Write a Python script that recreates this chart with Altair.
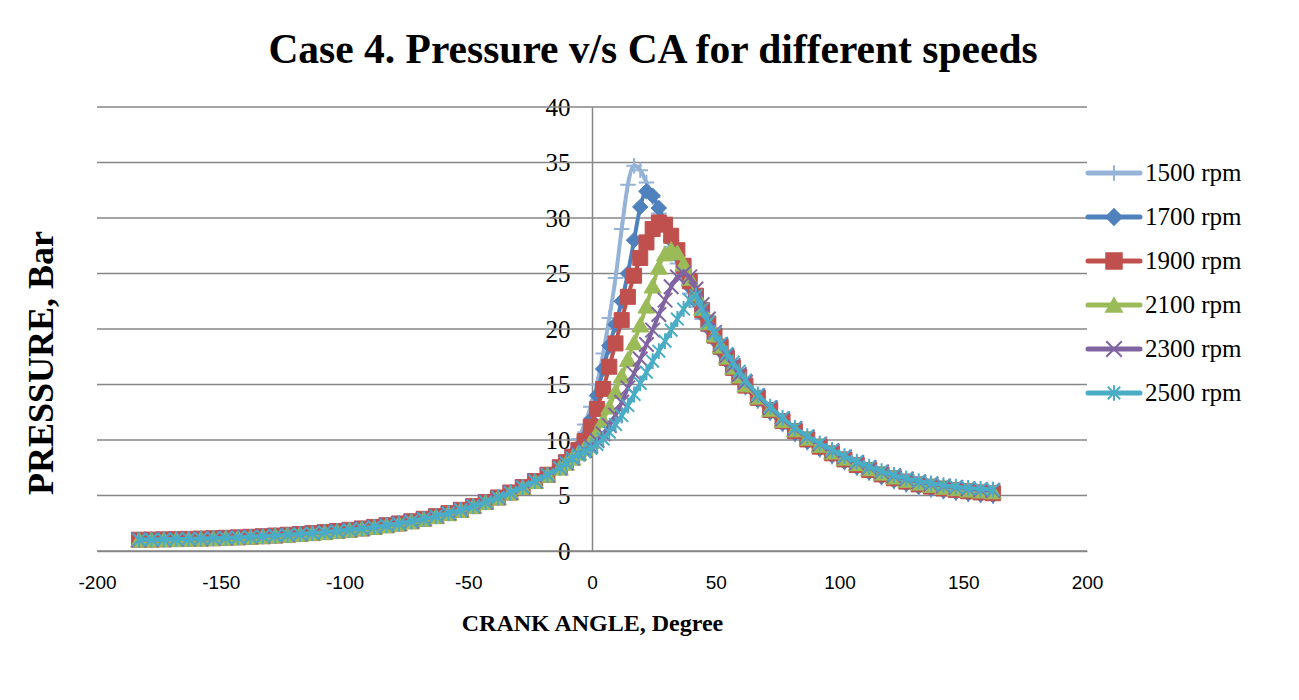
import altair as alt
import pandas as pd

series_names = ["1500 rpm", "1700 rpm", "1900 rpm", "2100 rpm", "2300 rpm", "2500 rpm"]
colors = ["#95B3D7", "#4F81BD", "#C0504D", "#9BBB59", "#8064A2", "#4BACC6"]

# crank angle grid (degrees)
ca_compression = list(range(-183, -17, 5))
ca_combustion = [-13 + 2.5 * i for i in range(31)]
ca_expansion = list(range(67, 163, 5))

# compression stroke (common to all speeds), bar
p_compression = [1.02, 1.03, 1.05, 1.07, 1.09, 1.12, 1.15, 1.19, 1.23, 1.28,
                 1.33, 1.39, 1.46, 1.53, 1.61, 1.70, 1.80, 1.91, 2.03, 2.17,
                 2.32, 2.48, 2.68, 2.90, 3.14, 3.41, 3.71, 4.04, 4.41, 4.82,
                 5.27, 5.76, 6.30, 6.87]

# combustion region, bar
p_comb_1500 = [7.7, 8.3, 9.1, 10.1, 11.4, 13.0, 15.0, 17.8, 21.0, 24.6, 29.0, 33.0, 34.7, 34.3, 33.2,
               31.9, 30.4, 28.9, 27.4, 25.9, 24.5, 23.2, 22.0, 20.9, 19.8, 18.8, 17.9, 17.0, 16.2, 15.4, 14.7]
p_comb_1700 = [7.6, 8.1, 8.7, 9.3, 10.2, 11.8, 14.0, 16.4, 18.5, 20.4, 22.5, 25.0, 28.0, 31.0, 32.4,
               32.0, 30.9, 29.5, 28.0, 26.6, 25.2, 23.8, 22.5, 21.3, 20.1, 19.0, 18.0, 17.1, 16.3, 15.5, 14.8]
p_comb_1900 = [7.55, 8.0, 8.5, 9.1, 9.9, 11.2, 12.8, 14.6, 16.6, 18.7, 20.8, 22.9, 24.8, 26.4, 27.8,
               29.0, 29.6, 29.4, 28.4, 27.1, 25.7, 24.3, 23.0, 21.7, 20.5, 19.4, 18.4, 17.4, 16.5, 15.7, 14.9]
p_comb_2100 = [7.5, 7.95, 8.4, 8.85, 9.3, 9.9, 10.7, 11.8, 13.0, 14.4, 15.8, 17.3, 18.8, 20.4, 22.1,
               23.9, 25.6, 26.8, 27.2, 26.9, 25.9, 24.6, 23.2, 21.9, 20.6, 19.5, 18.5, 17.5, 16.6, 15.8, 15.0]
p_comb_2300 = [7.5, 7.95, 8.35, 8.75, 9.05, 9.45, 9.95, 10.55, 11.3, 12.25, 13.4, 14.7, 16.0, 17.3, 18.6,
               19.9, 21.3, 22.6, 23.8, 24.7, 25.0, 24.7, 23.6, 22.2, 20.9, 19.7, 18.6, 17.6, 16.7, 15.9, 15.2]
p_comb_2500 = [7.5, 7.95, 8.35, 8.65, 8.95, 9.25, 9.6, 10.1, 10.7, 11.4, 12.2, 13.1, 14.1, 15.1, 16.1,
               17.1, 18.0, 18.9, 19.9, 20.9, 21.8, 22.6, 23.0, 21.8, 20.6, 19.6, 18.7, 17.8, 17.0, 16.2, 15.4]

# expansion stroke, bar
p_exp_1500 = [13.5, 12.4, 11.4, 10.5, 9.75, 9.1, 8.5, 7.95, 7.45, 7.0,
              6.6, 6.25, 5.95, 5.7, 5.5, 5.33, 5.2, 5.08, 5.0, 4.93]
p_exp_1700 = [13.6, 12.5, 11.5, 10.6, 9.85, 9.2, 8.6, 8.05, 7.55, 7.1,
              6.7, 6.35, 6.05, 5.8, 5.6, 5.43, 5.3, 5.18, 5.1, 5.03]
p_exp_1900 = [13.8, 12.7, 11.7, 10.8, 10.05, 9.4, 8.8, 8.25, 7.75, 7.3,
              6.9, 6.55, 6.25, 6.0, 5.8, 5.63, 5.5, 5.38, 5.28, 5.2]
p_exp_2100 = [13.9, 12.8, 11.8, 10.95, 10.2, 9.55, 8.95, 8.4, 7.9, 7.45,
              7.05, 6.7, 6.4, 6.15, 5.95, 5.78, 5.65, 5.53, 5.44, 5.37]
p_exp_2300 = [14.0, 12.9, 11.9, 11.03, 10.28, 9.63, 9.03, 8.48, 7.98, 7.53,
              7.13, 6.78, 6.48, 6.23, 6.03, 5.86, 5.73, 5.61, 5.52, 5.45]
p_exp_2500 = [14.1, 13.0, 12.0, 11.1, 10.35, 9.7, 9.1, 8.55, 8.05, 7.6,
              7.2, 6.85, 6.55, 6.3, 6.1, 5.93, 5.8, 5.68, 5.6, 5.53]

y_ticks = [0, 5, 10, 15, 20, 25, 30, 35, 40]
x_ticks = [-200, -150, -100, -50, 0, 50, 100, 150, 200]

comb_lists = [p_comb_1500, p_comb_1700, p_comb_1900, p_comb_2100, p_comb_2300, p_comb_2500]
exp_lists = [p_exp_1500, p_exp_1700, p_exp_1900, p_exp_2100, p_exp_2300, p_exp_2500]

rows = []
all_ca = ca_compression + ca_combustion + ca_expansion
for name, comb, exp in zip(series_names, comb_lists, exp_lists):
    for ca, p in zip(all_ca, p_compression + comb + exp):
        rows.append({"series": name, "ca": ca, "p": p})
df = pd.DataFrame(rows)

W, H = 990, 444

shapes = [
    "M-1,0L1,0M0,-1L0,1",
    "diamond",
    "square",
    "triangle-up",
    "M-1,-1L1,1M-1,1L1,-1",
    "M0,-1L0,1M-0.8,-0.8L0.8,0.8M-0.8,0.8L0.8,-0.8",
]
sizes = [240, 240, 225, 290, 210, 250]
filled = [False, True, True, True, False, False]

x_scale = alt.Scale(domain=[-200, 200], nice=False, zero=False)
y_scale = alt.Scale(domain=[0, 40], nice=False, zero=False)

x_axis = alt.Axis(values=x_ticks, title="CRANK ANGLE, Degree", grid=False, ticks=False,
                  domainColor="#868686", domainWidth=1.5,
                  labelExpr="datum.value < 0 ? '-' + abs(datum.value) : '' + datum.value",
                  labelFont="Liberation Sans", labelFontSize=19, labelColor="black",
                  labelPadding=22, labelFlush=False,
                  titleFont="Liberation Serif", titleFontSize=24, titleFontWeight="bold",
                  titleColor="black", titlePadding=19)
y_axis = alt.Axis(values=y_ticks, title=None, grid=False, ticks=False, offset=-W / 2,
                  domainColor="#868686", domainWidth=1.5,
                  labelFont="Liberation Serif", labelFontSize=25, labelColor="black",
                  labelPadding=22)

grid_df = pd.DataFrame({"v": y_ticks})
grid = alt.Chart(grid_df).mark_rule(color="#868686", strokeWidth=1.5).encode(
    y=alt.Y("v:Q", scale=y_scale, axis=y_axis),
    x=alt.value(0), x2=alt.value(W),
)

layers = [grid]
for i, name in enumerate(series_names):
    base = alt.Chart(df).transform_filter(alt.datum.series == name)
    line = base.mark_line(color=colors[i], strokeWidth=4, interpolate="monotone",
                          strokeJoin="round", strokeCap="round").encode(
        x=alt.X("ca:Q", scale=x_scale, axis=x_axis),
        y=alt.Y("p:Q", scale=y_scale, axis=y_axis),
    )
    if filled[i]:
        pts = base.mark_point(shape=shapes[i], size=sizes[i], filled=True, fill=colors[i],
                              stroke=colors[i], strokeWidth=1, opacity=1)
    else:
        pts = base.mark_point(shape=shapes[i], size=sizes[i], filled=False,
                              stroke=colors[i], strokeWidth=2, opacity=1)
    pts = pts.encode(
        x=alt.X("ca:Q", scale=x_scale, axis=x_axis),
        y=alt.Y("p:Q", scale=y_scale, axis=y_axis),
    )
    layers += [line, pts]

ytitle = alt.Chart(pd.DataFrame({"t": ["PRESSURE, Bar"]})).mark_text(
    font="Liberation Serif", fontSize=36, fontWeight="bold", color="black",
    angle=270, align="center", baseline="middle").encode(
    text="t:N", x=alt.value(-55), y=alt.value(256))
layers.append(ytitle)

main = alt.layer(*layers)

leg_df = pd.DataFrame({"series": series_names})
leg_y = alt.Y("series:N", sort=series_names,
              scale=alt.Scale(domain=series_names, range=[44, 308]), axis=None)
leg_color = alt.Color("series:N", scale=alt.Scale(domain=series_names, range=colors), legend=None)
leg_line = alt.Chart(leg_df).mark_rule(strokeWidth=5, strokeCap="round").encode(
    y=leg_y, x=alt.value(991), x2=alt.value(1043), color=leg_color)
leg_pts = alt.Chart(leg_df).mark_point(strokeWidth=2, opacity=1, filled=False).encode(
    y=leg_y, x=alt.value(1017),
    stroke=alt.Stroke("series:N", scale=alt.Scale(domain=series_names, range=colors), legend=None),
    fill=alt.Fill("series:N", scale=alt.Scale(domain=series_names,
                  range=[c if f else "transparent" for c, f in zip(colors, filled)]), legend=None),
    shape=alt.Shape("series:N", scale=alt.Scale(domain=series_names, range=shapes), legend=None),
    size=alt.Size("series:N", scale=alt.Scale(domain=series_names, range=sizes), legend=None),
)
leg_text = alt.Chart(leg_df).mark_text(font="Liberation Serif", fontSize=25, color="black",
                                       align="left", baseline="middle").encode(
    y=leg_y, x=alt.value(1048), text="series:N")
legend = alt.layer(leg_line, leg_pts, leg_text)

chart = alt.layer(main, legend).resolve_scale(y="independent").properties(
    width=W, height=H,
    title=alt.TitleParams("Case 4. Pressure v/s CA for different speeds",
                          font="Liberation Serif", fontSize=41.5, fontWeight="bold",
                          color="black", anchor="middle", frame="group", dx=61, offset=24),
    autosize=alt.AutoSizeParams(type="none"),
    padding={"left": 97, "top": 107, "right": 212, "bottom": 149},
    background="white",
).configure_view(stroke=None)

chart.save("out.html", embed_options={"renderer": "svg", "actions": False})
